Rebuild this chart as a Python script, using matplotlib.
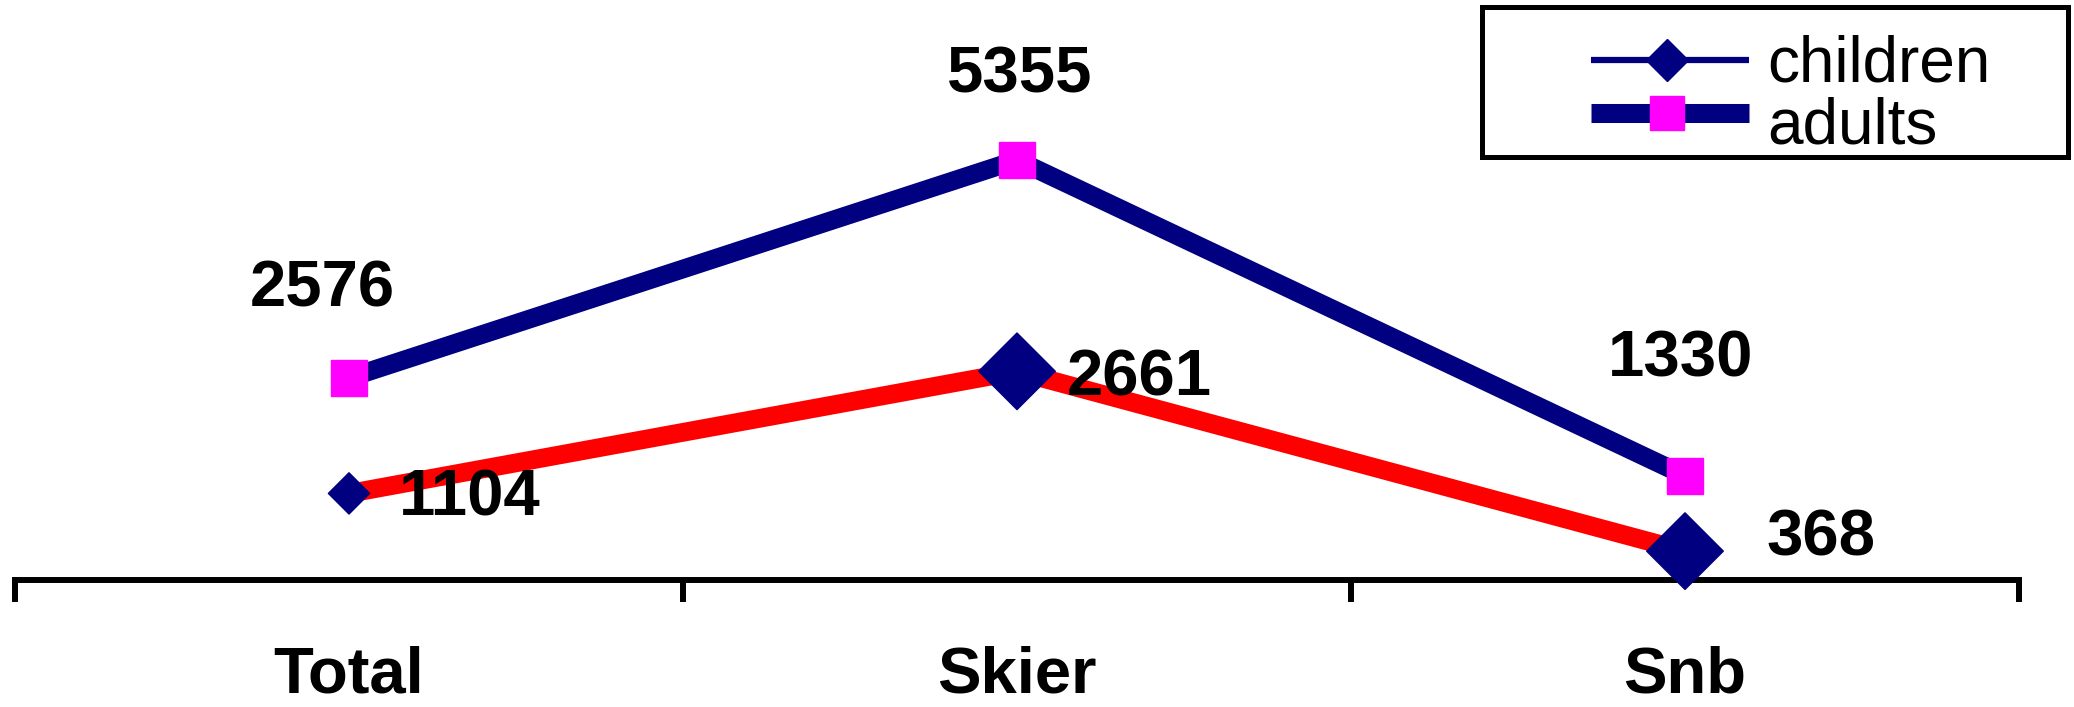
import matplotlib
matplotlib.use('Agg')
import matplotlib.pyplot as plt
from matplotlib.lines import Line2D
from matplotlib.patches import Rectangle

# data
categories = ['Total', 'Skier', 'Snb']
children = [1104, 2661, 368]
adults = [2576, 5355, 1330]
series_names = ['children', 'adults']

navy = '#000080'
magenta = '#FF00FF'
W, H, DPI = 2074, 707, 100

plt.rcParams['font.family'] = ['Liberation Sans', 'DejaVu Sans']

fig = plt.figure(figsize=(W / DPI, H / DPI), dpi=DPI)
ax = fig.add_axes([15 / W, 127 / H, 2004 / W, 580 / H])
x = list(range(len(categories)))

# adults: thick navy line, magenta squares
ax.plot(x, adults, color=navy, lw=13.5, solid_capstyle='butt', zorder=3)
ax.plot(x, adults, ls='none', marker='s', ms=26, mfc=magenta, mec=magenta,
        zorder=5, clip_on=False)

# children: red line, navy diamonds (first one drawn smaller)
diamond_ms = [21, 39, 39]
ax.plot(x, children, color='red', lw=13.5, solid_capstyle='butt', zorder=3)
ax.scatter(x, children, s=[m ** 2 for m in diamond_ms], marker='D',
           color=navy, zorder=5, clip_on=False)

# value labels
adult_offsets = [(-19, 64), (2, 61), (-3, 84)]
child_offsets = [(87, -4), (88, -5), (98, 9)]
for xi, v, off in zip(x, adults, adult_offsets):
    ax.annotate(str(v), (xi, v), xytext=off, textcoords='offset points',
                ha='center', va='center', fontsize=47, fontweight='bold',
                zorder=6, annotation_clip=False)
for xi, v, off in zip(x, children, child_offsets):
    ax.annotate(str(v), (xi, v), xytext=off, textcoords='offset points',
                ha='center', va='center', fontsize=47, fontweight='bold',
                zorder=6, annotation_clip=False)

# axes
for s in ['left', 'top', 'right']:
    ax.spines[s].set_visible(False)
ax.spines['bottom'].set_linewidth(4.3)
ax.set_yticks([])
ax.set_xlim(-0.5, 2.5)
ax.set_ylim(0, 7395)
ax.set_xticks(x, categories, fontsize=47, fontweight='bold')
ax.tick_params(axis='x', which='major', length=0, pad=47)
ax.set_xticks([-0.5, 0.5, 1.5, 2.5], minor=True)
ax.tick_params(axis='x', which='minor', length=16, width=4.3, direction='out')

# legend, laid out by hand in figure pixels
def fx(px):
    return px / W

def fy(py):
    return 1 - py / H

legend_rows = [
    dict(y=60, base=82, lw=4.5, marker='D', ms=21, fc=navy),
    dict(y=113, base=143, lw=13.7, marker='s', ms=25, fc=magenta),
]
for name, row in zip(series_names, legend_rows):
    fig.add_artist(Line2D([fx(1591), fx(1749)], [fy(row['y'])] * 2,
                          transform=fig.transFigure, color=navy, lw=row['lw'],
                          solid_capstyle='butt'))
    fig.add_artist(Line2D([fx(1667)], [fy(row['y'])], transform=fig.transFigure,
                          ls='none', marker=row['marker'], ms=row['ms'],
                          mfc=row['fc'], mec=row['fc']))
    fig.text(fx(1767), fy(row['base']), name, fontsize=46, va='baseline',
             ha='left')
fig.add_artist(Rectangle((fx(1482), fy(157)), (2068 - 1482) / W, 150 / H,
                         transform=fig.transFigure, fill=False, ec='black', lw=3.6))

fig.savefig('out.png', dpi=DPI)
